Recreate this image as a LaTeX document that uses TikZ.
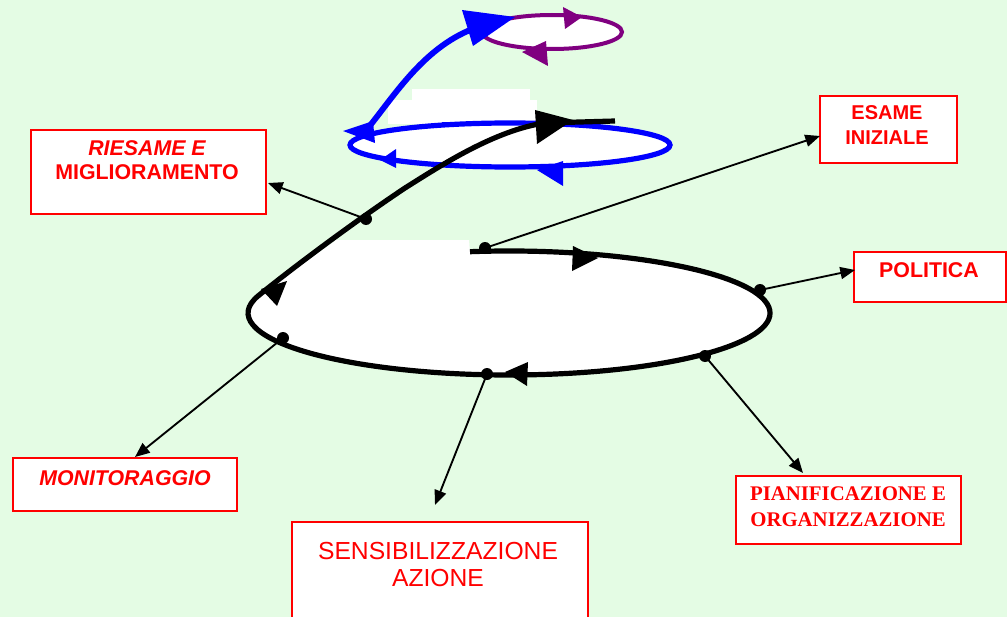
\documentclass[tikz,border=0pt]{standalone}
\usepackage{fontspec}
\setmainfont{Liberation Serif}
\setsansfont{Liberation Sans}
\usetikzlibrary{arrows.meta}
\definecolor{bg}{RGB}{228,252,228}
\definecolor{myred}{RGB}{255,0,0}
\definecolor{myblue}{RGB}{0,0,255}
\definecolor{mypurple}{RGB}{128,0,128}
\begin{document}
\begin{tikzpicture}[x=0.75pt,y=-0.75pt,
  box/.style={draw=myred, line width=1.6pt, fill=white, inner sep=0pt},
  lbl/.style={text=myred, align=center, anchor=north, inner sep=0pt, font=\sffamily\bfseries\fontsize{16pt}{18pt}\selectfont},
  conn/.style={line width=1.4pt, -{Triangle[length=11pt,width=9pt]}},
  dotmark/.style={fill=black},
  loopline/.style={line width=3.9pt},
]
\fill[bg] (0,0) rectangle (1007,617);
\useasboundingbox (0,0) rectangle (1007,617);
\clip (0,0) rectangle (1007,617);

% white patches of the upper loops
\fill[white] (412,89) rectangle (530,101);
\fill[white] (388,100) rectangle (537,124);
\fill[white] (510,145) ellipse [x radius=160, y radius=22];
\fill[white] (552,32) ellipse [x radius=70, y radius=17];

% purple loop
\draw[mypurple, line width=3pt] (552,32) ellipse [x radius=70, y radius=17];
\fill[mypurple] (563,7) -- (582,17) -- (565,29) -- cycle;
\fill[mypurple] (522,52) -- (546,41) -- (548,66) -- cycle;

% blue loop
\draw[myblue, loopline] (510,145) ellipse [x radius=160, y radius=22];
\draw[myblue, line width=4.4pt] (368,128) .. controls (395,95) and (425,45) .. (478,27);
\fill[myblue] (537,170) -- (563,161) -- (563,186) -- cycle;
\fill[myblue] (380,160) -- (396,149) -- (396,168) -- cycle;
\fill[myblue] (343,131) -- (373,121) -- (375,143) -- cycle;
\fill[myblue] (462,10) -- (515,17) -- (473,46) -- cycle;
\draw[myblue, line width=1.5pt] (442,123) -- (462,123);

% main loop fill
\fill[white] (335,240) rectangle (469,262);
\fill[white] (509,313) ellipse [x radius=261, y radius=62];
\fill[white] (258,296) -- (335,241) -- (469,240) -- (470,253) -- cycle;

% main spiral
\draw[loopline] (470,251.7) arc[start angle=-98.6, end angle=196, x radius=261, y radius=62]
  .. controls (300,262) and (360,218) .. (405,188)
  .. controls (440,166) and (495,130) .. (545,123) -- (615,121);
\fill (573,246) -- (598,258) -- (572,271) -- cycle;
\fill (505,372) -- (528,362) -- (527,386) -- cycle;
\fill (261,289) -- (287,281) -- (277,306) -- cycle;
\fill (535,110) -- (573,120) -- (537,144) -- cycle;

% boxes
\node[box, minimum width=176.25pt, minimum height=63pt] (riesame) at (148.5,172) {};
\node[box, minimum width=102.75pt, minimum height=50.25pt] (esame) at (888.5,129.5) {};
\node[box, minimum width=114pt, minimum height=37.5pt] (politica) at (930,277) {};
\node[box, minimum width=168pt, minimum height=39.75pt] (monit) at (125,484.5) {};
\node[box, minimum width=222pt, minimum height=77.25pt] (sensib) at (440,573.5) {};
\node[box, minimum width=168.75pt, minimum height=51pt] (pianif) at (848.5,510) {};

% labels
\node[lbl] (triesame) at (147,140) {{\itshape RIESAME E}\\MIGLIORAMENTO};
\node[lbl, font=\sffamily\bfseries\fontsize{15pt}{18.75pt}\selectfont] (tesame) at (887,105) {ESAME\\INIZIALE};
\node[lbl] (tpolitica) at (929,262) {POLITICA};
\node[lbl] (tmonit) at (125,470) {\itshape MONITORAGGIO};
\node[lbl, font=\sffamily\fontsize{18.5pt}{20pt}\selectfont] (tsensib) at (438,542) {SENSIBILIZZAZIONE\\AZIONE};
\node[lbl, font=\rmfamily\bfseries\fontsize{15.6pt}{19.5pt}\selectfont] (tpianif) at (848,486) {PIANIFICAZIONE E\\ORGANIZZAZIONE};

% connector points
\coordinate (d1) at (366,219);
\coordinate (d2) at (485,248);
\coordinate (d3) at (760,290);
\coordinate (d4) at (705,356);
\coordinate (d5) at (487,374);
\coordinate (d6) at (283,338);
\coordinate (e1) at (268,183);
\coordinate (e2) at (820,136);
\coordinate (e3) at (855,270);
\coordinate (e4) at (803,473);
\coordinate (e5) at (435,505);
\coordinate (e6) at (135,457);

\draw[conn] (d1) -- (e1);
\draw[conn] (d2) -- (e2);
\draw[conn] (d3) -- (e3);
\draw[conn] (d4) -- (e4);
\draw[conn] (d5) -- (e5);
\draw[conn] (d6) -- (e6);
\foreach \p in {d1,d2,d3,d4,d5,d6} \fill[dotmark] (\p) circle [radius=6];
\end{tikzpicture}
\end{document}
